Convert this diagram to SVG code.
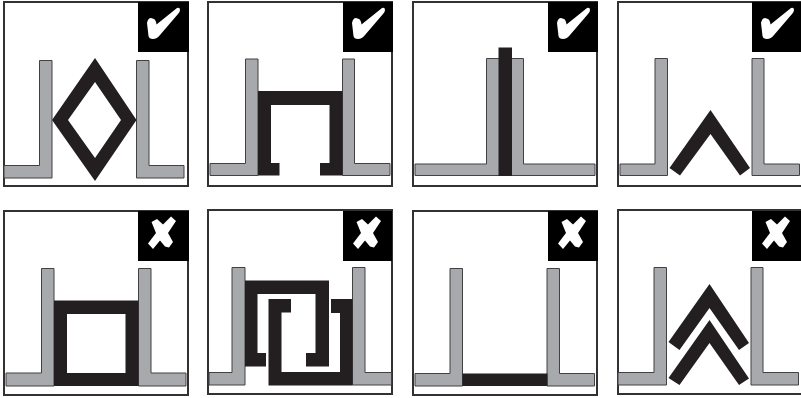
<svg xmlns="http://www.w3.org/2000/svg" width="801" height="398" viewBox="0 0 801 398">
<style>
.frame{fill:#fff;stroke:#333133;stroke-width:2}
.badge{fill:#000}
.mark{fill:#fff}
.wall{fill:#a7a9ac;stroke:#414042;stroke-width:1}
.part{fill:#231f20;fill-rule:evenodd}
</style>
<defs>
<path id="check" d="M11 23Q12 18 15 18L18 19Q20 20 20.500 24.500L41 8Q44 7 44 10Q44 12 42 14L24 35Q21 39 17 39Q13 39 12.500 36Z"/>
<path id="cross" d="M15.500 14L21 11L27 16.500L35 8.500L40 13L32 25L37 34L33 39.500L29 38.500L24 32.500L17 41L12 35.500L20 25Z"/>
</defs>
<g id="panel-1">
<rect class="frame" x="4" y="2" width="184" height="184"/>
<rect class="badge" x="138" y="2" width="51" height="50"/>
<use class="mark" href="#check" x="136" y="0"/>
<path class="wall" d="M4 165.500H39.500V60.500H52V178H4Z"/>
<path class="wall" d="M136.500 60.500H149V165.500H184V178H136.500Z"/>
<path class="part" d="M95 58L136.500 120L95 181L52 120ZM95 82L68 120L95 158L121 120Z"/>
</g>
<g id="panel-2">
<rect class="frame" x="208" y="2" width="184" height="184"/>
<rect class="badge" x="343" y="2" width="50" height="50"/>
<use class="mark" href="#check" x="341" y="0"/>
<path class="wall" d="M210 163.500H245.500V59H258V175.500H210Z"/>
<path class="wall" d="M342.500 59H354.500V163.500H390V175.500H342.500Z"/>
<path class="part" d="M258 91H342.500V175.500H320V163H329.500V105H271V163H279.500V175.500H258Z"/>
</g>
<g id="panel-3">
<rect class="frame" x="413" y="2" width="184" height="184"/>
<rect class="badge" x="548" y="2" width="50" height="50"/>
<use class="mark" href="#check" x="546" y="0"/>
<path class="wall" d="M415 164H486.500V58.500H523.500V164H595V175.500H415Z"/>
<rect class="part" x="498.500" y="47.500" width="13.500" height="128.500"/>
</g>
<g id="panel-4">
<rect class="frame" x="618" y="2" width="186" height="184"/>
<rect class="badge" x="752" y="2" width="49" height="50"/>
<use class="mark" href="#check" x="750" y="0"/>
<path class="wall" d="M620 164H655V58.500H667.500V175.500H620Z"/>
<path class="wall" d="M752 58.500H764V164H799.500V175.500H752Z"/>
<path class="part" d="M710.500 110L750 168L740 175.500L710.500 134L680 175.500L669.500 168Z"/>
</g>
<g id="panel-5">
<rect class="frame" x="4" y="211" width="184" height="184"/>
<rect class="badge" x="138" y="211" width="51" height="50"/>
<use class="mark" href="#cross" x="136" y="208"/>
<path class="wall" d="M6 373H41.500V268.500H54V386H6Z"/>
<path class="wall" d="M138.500 268.500H151V373H186V386H138.500Z"/>
<path class="part" d="M54 300.500H138.500V386H54ZM67 314V373H125.500V314Z"/>
</g>
<g id="panel-6">
<rect class="frame" x="208" y="210" width="184" height="184"/>
<rect class="badge" x="343" y="211" width="49" height="50"/>
<use class="mark" href="#cross" x="341" y="208"/>
<path class="wall" d="M209 372.500H232V267.500H245V385H209Z"/>
<path class="wall" d="M352.500 267.500H365V372.500H391.500V385H352.500Z"/>
<path class="part" d="M245 280.500H329V366.500H306V353H315.500V294H257.500V353H266V366.500H245Z"/>
<path class="part" d="M268.500 299H291V312.500H281.500V372H340V313H331V299H352.500V385.500H268.500Z"/>
</g>
<g id="panel-7">
<rect class="frame" x="413" y="211" width="184" height="184"/>
<rect class="badge" x="548" y="211" width="50" height="50"/>
<use class="mark" href="#cross" x="546" y="208"/>
<path class="wall" d="M415 373.500H450V268.500H462.500V386H415Z"/>
<path class="wall" d="M547 268.500H559.500V373.500H594.500V386H547Z"/>
<rect class="part" x="462.500" y="373.500" width="85" height="12.500"/>
</g>
<g id="panel-8">
<rect class="frame" x="618" y="210" width="186" height="184"/>
<rect class="badge" x="752" y="211" width="49" height="50"/>
<use class="mark" href="#cross" x="750" y="208"/>
<path class="wall" d="M618 372.500H654V267.500H666.500V385H618Z"/>
<path class="wall" d="M751 267.500H763V372.500H798.500V385H751Z"/>
<path class="part" d="M709.500 284L749 343L739 350L709.500 308L679.500 350L668.500 342Z"/>
<path class="part" d="M709.500 320L749 378.500L739 385L709.500 343L679.500 385L668.500 378Z"/>
</g>
</svg>
